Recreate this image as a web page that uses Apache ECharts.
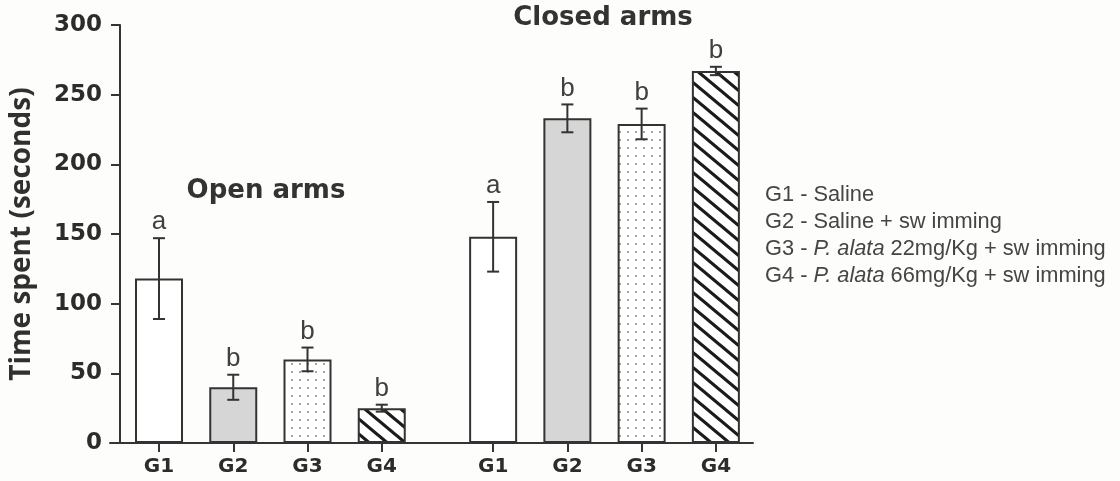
<!DOCTYPE html>
<html>
<head>
<meta charset="utf-8">
<title>Time spent in open and closed arms</title>
<script src="https://cdn.jsdelivr.net/npm/echarts@6.0.0/dist/echarts.min.js"></script>
<style>
  html, body { margin: 0; padding: 0; background: #fdfdfb; }
  #chart { width: 1120px; height: 481px; }
</style>
</head>
<body>
<div id="chart"></div>
<script>
// Groups and measured values (mean ± SEM, seconds)
const categories = ['G1', 'G2', 'G3', 'G4'];
const openMeans = [118, 40, 60, 25];
const openSem = [29, 9, 8.5, 2.5];
const closedMeans = [148, 233, 229, 267];
const closedSem = [25, 10, 11, 3];
const openLetters = ['a', 'b', 'b', 'b'];
const closedLetters = ['a', 'b', 'b', 'b'];
const yTicks = [0, 50, 100, 150, 200, 250, 300];
const legendLines = [
  'G1 - Saline',
  'G2 - Saline + sw imming',
  'G3 - {i|P. alata} 22mg/Kg + sw imming',
  'G4 - {i|P. alata} 66mg/Kg + sw imming'
];

// Slot layout along the x axis: the closed-arm block follows after a wider gap
const groupGap = 1.5;
const openX = categories.map((c, i) => i);
const closedX = categories.map((c, i) => categories.length - 1 + groupGap + i);
const allX = openX.concat(closedX);
const allMeans = openMeans.concat(closedMeans);
const allSem = openSem.concat(closedSem);
const allLetters = openLetters.concat(closedLetters);
const allNames = categories.concat(categories);

// Fill patterns for the four groups
function stripeTile() {
  const w = 18, h = 15;
  const c = document.createElement('canvas');
  c.width = w; c.height = h;
  const g = c.getContext('2d');
  g.fillStyle = '#ffffff';
  g.fillRect(0, 0, w, h);
  g.strokeStyle = '#1b1b1b';
  g.lineWidth = 3.2;
  const k = h / w;
  [-h, 0, h].forEach(dy => {
    g.beginPath();
    g.moveTo(-2, dy - 2 * k);
    g.lineTo(w + 2, dy + h + 2 * k);
    g.stroke();
  });
  return c;
}
function dotTile() {
  const s = 8;
  const c = document.createElement('canvas');
  c.width = s; c.height = s;
  const g = c.getContext('2d');
  g.fillStyle = '#ffffff';
  g.fillRect(0, 0, s, s);
  g.fillStyle = '#8c8c8c';
  g.beginPath();
  g.arc(4, 4, 1.05, 0, Math.PI * 2);
  g.fill();
  return c;
}
const fills = [
  '#ffffff',
  '#d6d6d6',
  { image: dotTile(), repeat: 'repeat' },
  { image: stripeTile(), repeat: 'repeat' }
];

const barData = allX.map((x, i) => ({
  value: [x, allMeans[i]],
  itemStyle: { color: fills[i % categories.length] }
}));
const errData = allX.map((x, i) => [x, allMeans[i] - allSem[i], allMeans[i] + allSem[i]]);

const chart = echarts.init(document.getElementById('chart'), null, { renderer: 'canvas' });

const axisColor = '#353535';

chart.setOption({
  backgroundColor: '#fdfdfb',
  animation: false,
  grid: { left: 108, right: 367, top: 25, bottom: 38 },
  xAxis: {
    type: 'value',
    min: -0.66,
    max: 8.0,
    splitLine: { show: false },
    axisLine: { show: true, onZero: false, lineStyle: { color: axisColor, width: 2 } },
    axisTick: {
      show: true,
      length: 9,
      customValues: allX,
      lineStyle: { color: axisColor, width: 2 }
    },
    axisLabel: {
      show: true,
      customValues: allX,
      margin: 14,
      formatter: v => {
        const idx = allX.findIndex(x => Math.abs(x - v) < 1e-6);
        return idx >= 0 ? allNames[idx] : '';
      },
      color: '#2c2c2c',
      fontFamily: 'DejaVu Sans',
      fontWeight: 'bold',
      fontSize: 20
    }
  },
  yAxis: {
    type: 'value',
    min: yTicks[0],
    max: yTicks[yTicks.length - 1],
    interval: yTicks[1] - yTicks[0],
    offset: -10,
    name: 'Time spent (seconds)',
    nameLocation: 'middle',
    nameGap: 84,
    nameTextStyle: {
      color: '#303030',
      fontFamily: 'Open Sans',
      fontWeight: 'bold',
      fontSize: 28
    },
    splitLine: { show: false },
    axisLine: { show: true, onZero: false, lineStyle: { color: axisColor, width: 2 } },
    axisTick: { show: true, length: 9, lineStyle: { color: axisColor, width: 2 } },
    axisLabel: {
      margin: 18,
      color: '#2c2c2c',
      fontFamily: 'DejaVu Sans',
      fontWeight: 'bold',
      fontSize: 23
    }
  },
  graphic: [
    {
      type: 'text',
      x: 266, y: 191,
      style: {
        text: 'Open arms',
        fill: '#333333',
        font: 'bold 26px "DejaVu Sans"',
        textAlign: 'center',
        textVerticalAlign: 'middle'
      }
    },
    {
      type: 'text',
      x: 603, y: 18,
      style: {
        text: 'Closed arms',
        fill: '#333333',
        font: 'bold 26px "DejaVu Sans"',
        textAlign: 'center',
        textVerticalAlign: 'middle'
      }
    },
    {
      type: 'text',
      x: 765, y: 181,
      style: {
        text: legendLines.join('\n'),
        fill: '#454545',
        fontFamily: 'Liberation Sans',
        fontSize: 21.8,
        lineHeight: 27,
        rich: {
          i: {
            fontFamily: 'Liberation Sans',
            fontStyle: 'italic',
            fontSize: 21.8,
            lineHeight: 27,
            fill: '#454545'
          }
        }
      }
    }
  ],
  series: [
    {
      type: 'bar',
      barWidth: 48,
      data: barData,
      itemStyle: { borderColor: '#333333', borderWidth: 2 },
      z: 2
    },
    {
      type: 'custom',
      data: errData,
      encode: { x: 0, y: [1, 2] },
      z: 3,
      renderItem: (params, api) => {
        const x = api.value(0);
        const lo = api.coord([x, api.value(1)]);
        const hi = api.coord([x, api.value(2)]);
        const cap = 6;
        const stroke = { stroke: '#333333', lineWidth: 2 };
        return {
          type: 'group',
          children: [
            { type: 'line', shape: { x1: hi[0], y1: hi[1], x2: lo[0], y2: lo[1] }, style: stroke },
            { type: 'line', shape: { x1: hi[0] - cap, y1: hi[1], x2: hi[0] + cap, y2: hi[1] }, style: stroke },
            { type: 'line', shape: { x1: lo[0] - cap, y1: lo[1], x2: lo[0] + cap, y2: lo[1] }, style: stroke },
            {
              type: 'text',
              x: hi[0], y: hi[1] - 3,
              style: {
                text: allLetters[params.dataIndex],
                fill: '#404040',
                font: '26px "Liberation Sans"',
                textAlign: 'center',
                textVerticalAlign: 'bottom'
              }
            }
          ]
        };
      }
    }
  ]
});
</script>
</body>
</html>
